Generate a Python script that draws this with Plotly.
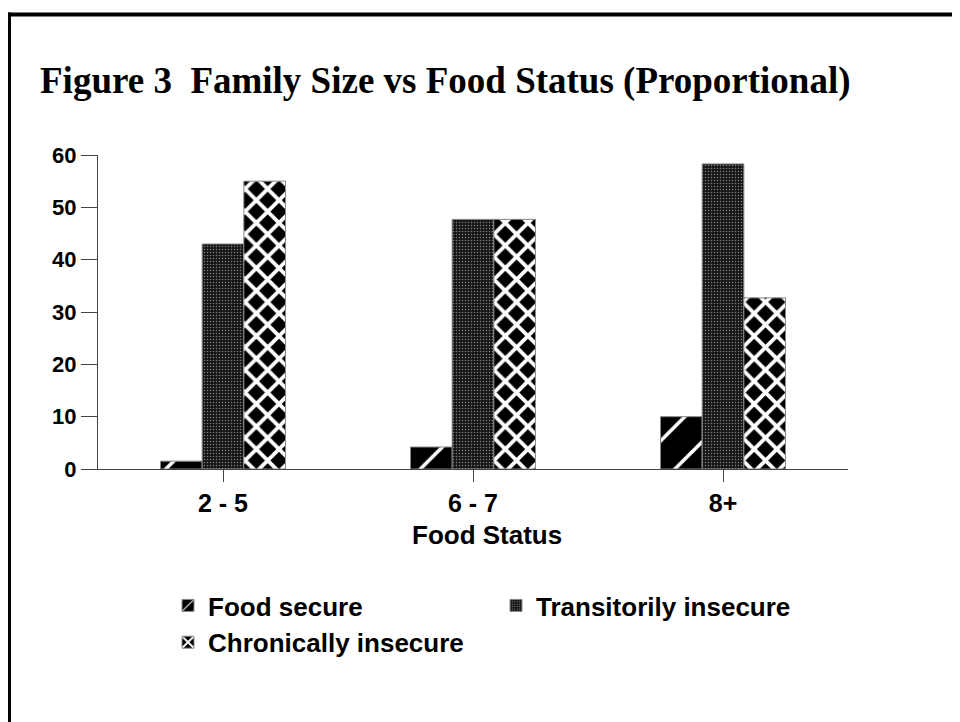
import plotly.graph_objects as go

categories = ["2 - 5", "6 - 7", "8+"]
food_secure = [1.5, 4.2, 10.0]
transitory = [43.0, 47.7, 58.3]
chronic = [55.0, 47.7, 32.7]
y_ticks = [0, 10, 20, 30, 40, 50, 60]

OFF = 8  # page body margin
FW, FH = 960 - OFF, 722 - OFF
# plot area in page pixels
L, R, T, B = 98, 848, 155, 469
W, H = R - L, B - T


def px(x):
    return (x - L) / W


def py(y):
    return (B - y) / H


fig = go.Figure()
fig.add_bar(
    x=categories, y=food_secure, name="Food secure",
    marker=dict(color="black", line=dict(color="#888", width=1),
                pattern=dict(shape="/", fgcolor="white", bgcolor="black", fgopacity=1,
                             size=30, solidity=0.12, fillmode="overlay")),
)
fig.add_bar(
    x=categories, y=transitory, name="Transitorily insecure",
    marker=dict(color="#161616", line=dict(color="#888", width=1),
                pattern=dict(shape=".", fgcolor="#808080", bgcolor="#161616", fgopacity=1,
                             size=3, solidity=0.2, fillmode="overlay")),
)
fig.add_bar(
    x=categories, y=chronic, name="Chronically insecure",
    marker=dict(color="black", line=dict(color="#888", width=1),
                pattern=dict(shape="x", fgcolor="white", bgcolor="black", fgopacity=1,
                             size=16, solidity=0.42, fillmode="overlay")),
)

sans = "Liberation Sans, Arial, sans-serif"
fig.update_layout(
    width=FW, height=FH,
    margin=dict(l=L - OFF, r=FW - (R - OFF), t=T - OFF, b=FH - (B - OFF), pad=0),
    paper_bgcolor="white", plot_bgcolor="white",
    barmode="group", bargap=0.5, bargroupgap=0,
    font=dict(family=sans, color="black", size=22),
    showlegend=True,
    legend=dict(orientation="h", x=px(168), y=py(582), xanchor="left", yanchor="top",
                entrywidth=283, entrywidthmode="pixels",
                font=dict(family=sans, size=26, color="black", weight="bold"),
                bgcolor="rgba(0,0,0,0)", tracegroupgap=0),
    xaxis=dict(range=[-0.5, 2.5], showline=True, linecolor="#444", linewidth=1,
               ticks="outside", ticklen=12, tickcolor="#444", showgrid=False,
               tickfont=dict(family=sans, size=25, weight="bold"), zeroline=False),
    yaxis=dict(range=[0, 60], tickvals=y_ticks, showline=True, linecolor="#444",
               linewidth=1, ticks="outside", ticklen=16, tickcolor="#444",
               showgrid=False, zeroline=False,
               tickfont=dict(family=sans, size=22, weight="bold")),
)

fig.add_annotation(
    text="<b>Figure 3  Family Size vs Food Status (Proportional)</b>",
    xref="paper", yref="paper", x=px(38), y=py(81), xanchor="left", yanchor="middle",
    showarrow=False, font=dict(family="Liberation Serif, Times New Roman, serif", size=37, color="black"),
)
fig.add_annotation(
    text="<b>Food Status</b>", xref="paper", yref="paper", x=px(487), y=py(535),
    xanchor="center", yanchor="middle", showarrow=False,
    font=dict(family=sans, size=26, color="black"),
)

# frame lines (page x=8 is the left edge of the figure)
fig.add_shape(type="line", xref="paper", yref="paper", x0=px(8), x1=px(975),
              y0=py(14.5), y1=py(14.5), line=dict(color="black", width=4))
fig.add_shape(type="line", xref="paper", yref="paper", x0=px(9.5), x1=px(9.5),
              y0=py(12.5), y1=py(740), line=dict(color="black", width=3))

fig.write_html("out.html")
